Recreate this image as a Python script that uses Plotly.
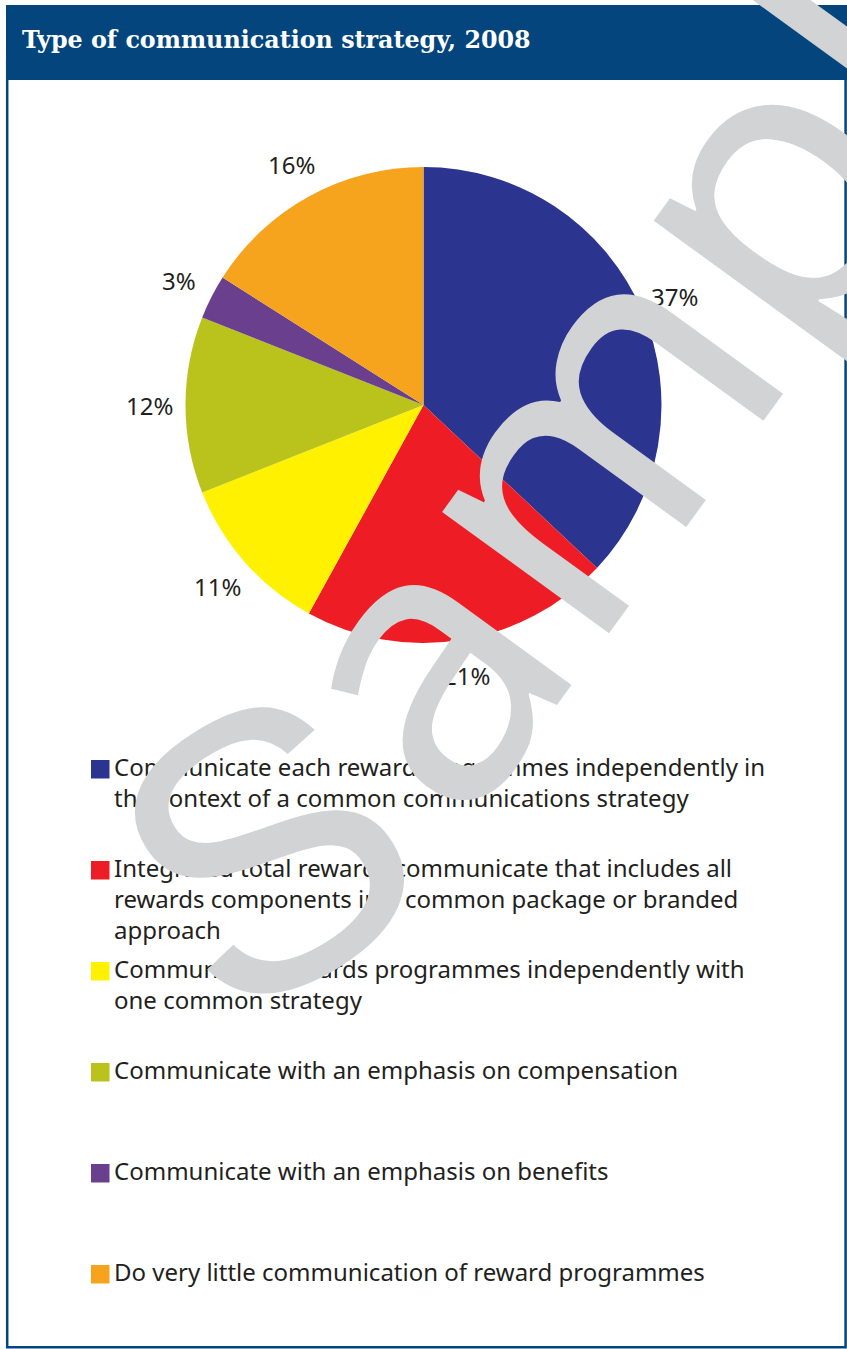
import math
import plotly.graph_objects as go

# ---- data -------------------------------------------------------------
categories = [
    "Communicate each reward programmes independently in<br>the context of a common communications strategy",
    "Integrated total rewards communicate that includes all<br>rewards components in a common package or branded<br>approach",
    "Communicate rewards programmes independently with<br>one common strategy",
    "Communicate with an emphasis on compensation",
    "Communicate with an emphasis on benefits",
    "Do very little communication of reward programmes",
]
shares = [37, 21, 11, 12, 3, 16]
colors = ["#2B3590", "#EE1D25", "#FFF100", "#B9C31B", "#6A3F8E", "#F6A41E"]
title = "Type of communication strategy, 2008"

W, H = 847, 1349
NAVY = "#03457C"
INK = "#231F20"
STAMP = "#D1D3D4"


def px(x):
    return x / W


def py(y):
    return 1 - y / H


# pie geometry (pixels)
cx, cy, R = 423.5, 405, 238
label_r = 274

fig = go.Figure()
fig.add_trace(go.Pie(
    values=shares,
    labels=[c.replace("<br>", " ") for c in categories],
    marker=dict(colors=colors, line=dict(width=0)),
    sort=False,
    direction="clockwise",
    rotation=0,
    textinfo="none",
    hoverinfo="label+percent",
    showlegend=False,
    domain=dict(x=[px(cx - R), px(cx + R)], y=[py(cy + R), py(cy - R)]),
))

annotations = []
shapes = []

# header band and frame
shapes.append(dict(type="rect", xref="paper", yref="paper",
                   x0=px(6), x1=px(847), y0=py(80), y1=py(5),
                   fillcolor=NAVY, line=dict(width=0), layer="below"))
shapes.append(dict(type="rect", xref="paper", yref="paper",
                   x0=px(7.2), x1=px(845.6), y0=py(1347.2), y1=py(60),
                   fillcolor="rgba(0,0,0,0)", line=dict(color=NAVY, width=2.5),
                   layer="below"))

annotations.append(dict(
    text=f"<b>{title}</b>", xref="paper", yref="paper",
    x=px(20), y=py(40), xanchor="left", yanchor="middle", showarrow=False,
    font=dict(family="DejaVu Serif", size=23.8, color="white"),
))

# percentage labels around the pie, at each slice's mid-angle
total = sum(shares)
cum = 0
for v in shares:
    mid = (cum + v / 2) / total * 2 * math.pi
    cum += v
    lx = cx + label_r * math.sin(mid)
    ly = cy - label_r * math.cos(mid)
    annotations.append(dict(
        text=f"{v}%", xref="paper", yref="paper", x=px(lx), y=py(ly),
        xanchor="center", yanchor="middle", showarrow=False,
        font=dict(family="Noto Sans", size=24, color=INK),
    ))

# legend: coloured square + wrapped description
top0, step = 760, 101
for i, (c, txt) in enumerate(zip(colors, categories)):
    t = top0 + i * step
    shapes.append(dict(type="rect", xref="paper", yref="paper",
                       x0=px(91), x1=px(109.5), y0=py(t + 18.5), y1=py(t),
                       fillcolor=c, line=dict(width=0)))
    annotations.append(dict(
        text=txt, xref="paper", yref="paper", x=px(112), y=py(t - 12),
        xanchor="left", yanchor="top", align="left", showarrow=False,
        font=dict(family="Noto Sans", size=24, color=INK),
    ))

# "Sample" stamp across the panel (warped: the initial sits flatter)
annotations.append(dict(
    text="S", xref="paper", yref="paper", x=px(265), y=py(850),
    xanchor="center", yanchor="middle", showarrow=False, textangle=-32,
    font=dict(family="Liberation Sans", size=390, color=STAMP),
))
annotations.append(dict(
    text="ample", xref="paper", yref="paper", x=px(673), y=py(290),
    xanchor="center", yanchor="middle", showarrow=False, textangle=-54,
    font=dict(family="Noto Sans", size=385, color=STAMP),
))

fig.update_layout(
    width=W, height=H, margin=dict(l=0, r=0, t=0, b=0),
    paper_bgcolor="white", plot_bgcolor="white",
    shapes=shapes, annotations=annotations,
)

fig.write_html("out.html")
